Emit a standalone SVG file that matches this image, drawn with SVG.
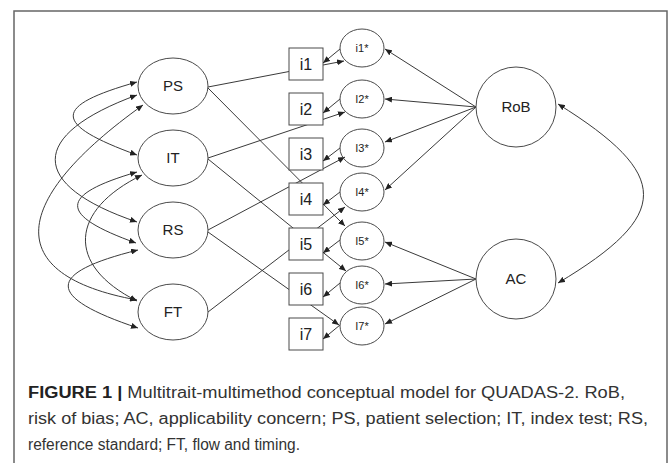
<svg xmlns="http://www.w3.org/2000/svg" width="669" height="463" viewBox="0 0 669 463">
<style>
.ln{fill:none;stroke:#3a3a3a;stroke-width:1}
.nd{fill:#fff;stroke:#4a4a4a;stroke-width:1}
.lb{font-family:"Liberation Sans",Arial,sans-serif;fill:#222;text-anchor:middle}
.big{font-size:15px}
.box{font-size:16px}
.sm{font-size:11px}
.cap{font-family:"Liberation Sans",Arial,sans-serif;font-size:16px;fill:#333}
</style>
<defs>
<marker id="ah" markerUnits="userSpaceOnUse" markerWidth="7" markerHeight="6" refX="7" refY="3" orient="auto-start-reverse">
<path d="M0,0 L7,3 L0,6 z" fill="#222"/>
</marker>
</defs>
<rect x="0" y="0" width="669" height="463" fill="#fff"/>
<path d="M14,463 V11 H667 V463" fill="none" stroke="#666" stroke-width="1.5"/>
<g id="connectors">
<!-- trait correlations -->
<path class="ln" marker-start="url(#ah)" marker-end="url(#ah)" d="M137,82 C52,106 52,124 137,155"/>
<path class="ln" marker-start="url(#ah)" marker-end="url(#ah)" d="M137,95 C28,135 28,185 137,222"/>
<path class="ln" marker-start="url(#ah)" marker-end="url(#ah)" d="M143,105 C10,200 0,275 137,300"/>
<path class="ln" marker-start="url(#ah)" marker-end="url(#ah)" d="M137,172 C58,195 58,215 136,243"/>
<path class="ln" marker-start="url(#ah)" marker-end="url(#ah)" d="M142,175 C70,210 65,265 137,301"/>
<path class="ln" marker-start="url(#ah)" marker-end="url(#ah)" d="M138,250 C45,273 45,297 138,328"/>
<!-- method correlation -->
<path class="ln" marker-start="url(#ah)" marker-end="url(#ah)" d="M558,104 C672,175 672,215 558,283"/>
<!-- trait loadings -->
<path class="ln" marker-end="url(#ah)" d="M208,87 L344,61"/>
<path class="ln" marker-end="url(#ah)" d="M208,88 L345,226"/>
<path class="ln" marker-end="url(#ah)" d="M208,158 L345,112"/>
<path class="ln" marker-end="url(#ah)" d="M208,159 L346,271"/>
<path class="ln" marker-end="url(#ah)" d="M208,230 L345,157"/>
<path class="ln" marker-end="url(#ah)" d="M208,232 L339,325"/>
<path class="ln" marker-end="url(#ah)" d="M208,312 L345,207"/>
<!-- method loadings -->
<path class="ln" marker-end="url(#ah)" d="M476,107 L385,49"/>
<path class="ln" marker-end="url(#ah)" d="M476,107 L385,99"/>
<path class="ln" marker-end="url(#ah)" d="M476,107 L385,142"/>
<path class="ln" marker-end="url(#ah)" d="M476,107 L385,190"/>
<path class="ln" marker-end="url(#ah)" d="M476,279 L385,242"/>
<path class="ln" marker-end="url(#ah)" d="M476,279 L385,284"/>
<path class="ln" marker-end="url(#ah)" d="M476,279 L385,324"/>
</g>
<g id="PS"><ellipse class="nd" cx="173" cy="86" rx="35" ry="28"/><text class="lb big" x="173" y="91">PS</text></g>
<g id="IT"><ellipse class="nd" cx="173" cy="158" rx="35" ry="28"/><text class="lb big" x="173" y="163">IT</text></g>
<g id="RS"><ellipse class="nd" cx="173" cy="230" rx="35" ry="28"/><text class="lb big" x="173" y="235">RS</text></g>
<g id="FT"><ellipse class="nd" cx="173" cy="312" rx="35" ry="28"/><text class="lb big" x="173" y="317">FT</text></g>
<g id="i1"><rect class="nd" x="289" y="48" width="34" height="32"/><text class="lb box" x="306" y="70">i1</text></g>
<g id="i2"><rect class="nd" x="289" y="93" width="34" height="32"/><text class="lb box" x="306" y="115">i2</text></g>
<g id="i3"><rect class="nd" x="289" y="138" width="34" height="32"/><text class="lb box" x="306" y="160">i3</text></g>
<g id="i4"><rect class="nd" x="289" y="183" width="34" height="32"/><text class="lb box" x="306" y="205">i4</text></g>
<g id="i5"><rect class="nd" x="289" y="228" width="34" height="32"/><text class="lb box" x="306" y="250">i5</text></g>
<g id="i6"><rect class="nd" x="289" y="273" width="34" height="32"/><text class="lb box" x="306" y="295">i6</text></g>
<g id="i7"><rect class="nd" x="289" y="318" width="34" height="32"/><text class="lb box" x="306" y="340">i7</text></g>
<g id="e-arrows">
<path class="ln" marker-end="url(#ah)" d="M340,49 L323,63"/>
<path class="ln" marker-end="url(#ah)" d="M340,99 L323,113"/>
<path class="ln" marker-end="url(#ah)" d="M340,148 L323,161"/>
<path class="ln" marker-end="url(#ah)" d="M340,192 L323,205"/>
<path class="ln" marker-end="url(#ah)" d="M340,240 L323,253"/>
<path class="ln" marker-end="url(#ah)" d="M340,283 L323,297"/>
<path class="ln" marker-end="url(#ah)" d="M340,325 L323,339"/>
</g>
<g id="i1s"><ellipse class="nd" cx="362" cy="48" rx="22" ry="19" fill-opacity="0"/><text class="lb sm" x="362" y="52">i1*</text></g>
<g id="i2s"><ellipse class="nd" cx="362" cy="99" rx="22" ry="19" fill-opacity="0"/><text class="lb sm" x="362" y="103">I2*</text></g>
<g id="i3s"><ellipse class="nd" cx="362" cy="148" rx="22" ry="19" fill-opacity="0"/><text class="lb sm" x="362" y="152">I3*</text></g>
<g id="i4s"><ellipse class="nd" cx="362" cy="192" rx="22" ry="19" fill-opacity="0"/><text class="lb sm" x="362" y="196">I4*</text></g>
<g id="i5s"><ellipse class="nd" cx="362" cy="241" rx="22" ry="19" fill-opacity="0"/><text class="lb sm" x="362" y="245">I5*</text></g>
<g id="i6s"><ellipse class="nd" cx="362" cy="285" rx="22" ry="19" fill-opacity="0"/><text class="lb sm" x="362" y="289">I6*</text></g>
<g id="i7s"><ellipse class="nd" cx="362" cy="326" rx="22" ry="19" fill-opacity="0"/><text class="lb sm" x="362" y="330">I7*</text></g>
<g id="RoB"><circle class="nd" cx="516" cy="107" r="40"/><text class="lb big" x="516" y="112">RoB</text></g>
<g id="AC"><circle class="nd" cx="516" cy="279" r="40"/><text class="lb big" x="516" y="284">AC</text></g>
<g id="caption">
<text class="cap" x="28" y="398" textLength="597" lengthAdjust="spacingAndGlyphs"><tspan font-weight="bold" fill="#222">FIGURE 1 | </tspan>Multitrait-multimethod conceptual model for QUADAS-2. RoB,</text>
<text class="cap" x="28" y="424" textLength="620" lengthAdjust="spacingAndGlyphs">risk of bias; AC, applicability concern; PS, patient selection; IT, index test; RS,</text>
<text class="cap" x="28" y="450" textLength="272" lengthAdjust="spacingAndGlyphs">reference standard; FT, flow and timing.</text>
</g>
</svg>
